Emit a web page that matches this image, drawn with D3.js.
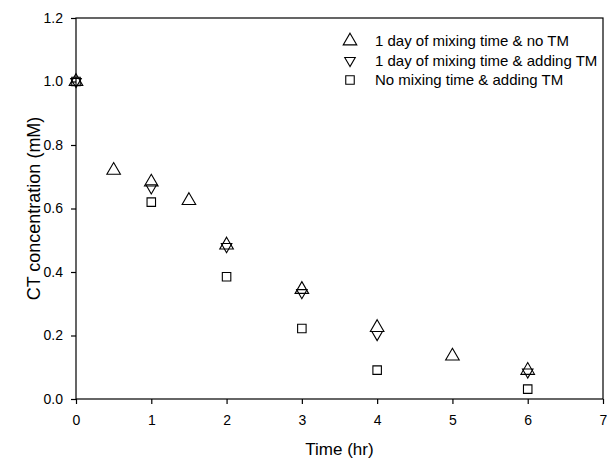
<!DOCTYPE html>
<html>
<head>
<meta charset="utf-8">
<script src="https://cdn.jsdelivr.net/npm/d3@7"></script>
<style>
body { margin: 0; background: #fff; }
text { font-family: "Liberation Sans", Arial, sans-serif; }
</style>
</head>
<body>
<div id="chart"></div>
<script>
// data
var timeA = [0, 0.5, 1, 1.5, 2, 3, 4, 5, 6],
    ctA = [1.0, 0.72, 0.683, 0.625, 0.485, 0.345, 0.225, 0.135, 0.09];
var timeB = [0, 1, 2, 3, 4, 6],
    ctB = [1.0, 0.665, 0.48, 0.335, 0.203, 0.085];
var timeC = [0, 1, 2, 3, 4, 6],
    ctC = [1.0, 0.62, 0.385, 0.222, 0.091, 0.031];
var seriesNames = ["1 day of mixing time & no TM", "1 day of mixing time & adding TM", "No mixing time & adding TM"];
var xTicks = [0, 1, 2, 3, 4, 5, 6, 7],
    yTicks = [0, 0.2, 0.4, 0.6, 0.8, 1.0, 1.2];

var width = 607, height = 459;
var margin = {top: 18, right: 4, bottom: 60, left: 76};

var svg = d3.select("#chart").append("svg")
    .attr("width", width)
    .attr("height", height);

var x = d3.scaleLinear().domain([0, 7]).range([margin.left, width - margin.right]),
    y = d3.scaleLinear().domain([0, 1.2]).range([height - margin.bottom, margin.top]);

// frame
svg.append("rect")
    .attr("x", x(0)).attr("y", y(1.2))
    .attr("width", x(7) - x(0)).attr("height", y(0) - y(1.2))
    .attr("fill", "none").attr("stroke", "#000").attr("stroke-width", 1.2);

var xaxis = svg.append("g")
    .attr("transform", "translate(0," + y(0) + ")")
    .call(d3.axisBottom(x).tickValues(xTicks).tickFormat(d3.format("d")).tickSize(5).tickPadding(11));

var yaxis = svg.append("g")
    .attr("transform", "translate(" + x(0) + ",0)")
    .call(d3.axisLeft(y).tickValues(yTicks).tickFormat(d3.format(".1f")).tickSize(5).tickPadding(8));

[xaxis, yaxis].forEach(function(a) {
    a.select(".domain").remove();
    a.selectAll("line").attr("stroke", "#000").attr("stroke-width", 1.2);
    a.selectAll("text").attr("font-size", 14).attr("fill", "#000")
        .style("font-family", "'Liberation Sans', Arial, sans-serif");
});

svg.append("text")
    .attr("x", (x(0) + x(7)) / 2).attr("y", 455)
    .attr("text-anchor", "middle").attr("font-size", 17)
    .text("Time (hr)");

svg.append("text")
    .attr("transform", "translate(40," + y(0.6) + ") rotate(-90)")
    .attr("text-anchor", "middle").attr("font-size", 18)
    .text("CT concentration (mM)");

var upTri = d3.symbol().type(d3.symbolTriangle).size(80),
    downTri = d3.symbol().type(d3.symbolTriangle).size(48),
    sq = d3.symbol().type(d3.symbolSquare).size(72);

function drawPoints(xs, ys, sym, rot) {
    svg.append("g").selectAll("path")
        .data(xs.map(function(t, i) { return [t, ys[i]]; }))
        .enter().append("path")
        .attr("d", sym)
        .attr("transform", function(d) {
            return "translate(" + x(d[0]) + "," + y(d[1]) + ")" + (rot ? " rotate(180)" : "");
        })
        .attr("fill", "none").attr("stroke", "#000").attr("stroke-width", 1.1);
}

drawPoints(timeC, ctC, sq, false);
drawPoints(timeB, ctB, downTri, true);
drawPoints(timeA, ctA, upTri, false);

// legend
var legSyms = [[upTri, false], [downTri, true], [sq, false]];
var leg = svg.append("g");
seriesNames.forEach(function(name, i) {
    var ly = 41 + i * 19.5;
    leg.append("path")
        .attr("d", legSyms[i][0])
        .attr("transform", "translate(350," + ly + ")" + (legSyms[i][1] ? " rotate(180)" : ""))
        .attr("fill", "none").attr("stroke", "#000").attr("stroke-width", 1.1);
    leg.append("text")
        .attr("x", 375).attr("y", ly + 5)
        .attr("font-size", 15)
        .text(name);
});
</script>
</body>
</html>
